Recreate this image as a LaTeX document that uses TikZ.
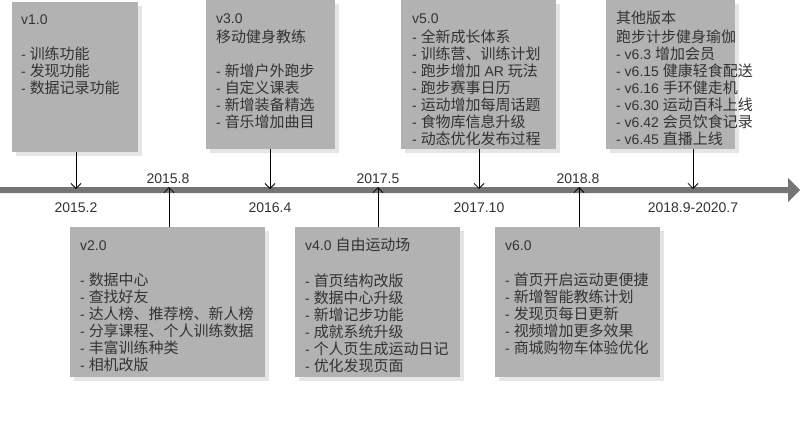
\documentclass[tikz,border=0pt]{standalone}
\usepackage{fontspec}
\setmainfont{Liberation Sans}
\newfontfamily\zhf[Scale=1.07]{Noto Sans CJK SC}
\newcommand\zh[1]{{\zhf #1}}
\usetikzlibrary{arrows.meta,shadows}
\definecolor{boxgray}{HTML}{B2B2B2}
\definecolor{linegray}{HTML}{757575}
\definecolor{txt}{HTML}{333333}
\begin{document}
\begin{tikzpicture}[x=1pt,y=-1pt,
  vbox/.style={rectangle, fill=boxgray, inner sep=0pt, outer sep=0pt, anchor=north west,
    drop shadow={shadow xshift=4pt, shadow yshift=-4pt, fill=black!10, opacity=1}},
  vtext/.style={anchor=north west, inner sep=0pt, align=left, text=txt,
    font=\fontsize{14}{17}\selectfont},
  date/.style={text=txt, inner sep=0pt, font=\fontsize{14}{17}\selectfont},
  conn/.style={draw=black, line width=0.8pt, -{Straight Barb[length=5pt,width=10pt,line width=0.8pt]}}
]
\useasboundingbox (0,0) rectangle (800,424);
% timeline
\fill[linegray] (0,187) -- (788,187) -- (788,178) -- (800,190) -- (788,202) -- (788,193) -- (0,193) -- cycle;
% timeline coordinates
\coordinate (d1) at (76,189);
\coordinate (d3) at (270,189);
\coordinate (d5) at (479,189);
\coordinate (d7) at (693,189);
\coordinate (u2) at (169,187);
\coordinate (u4) at (378,187);
\coordinate (u6) at (579,187);
% boxes top
\node[vbox, minimum width=126pt, minimum height=150pt] (b1) at (12,2) {};
\node[vbox, minimum width=129pt, minimum height=149pt] (b3) at (206,0) {};
\node[vbox, minimum width=155pt, minimum height=149pt] (b5) at (401,0) {};
\node[vbox, minimum width=129pt, minimum height=149pt] (b7) at (606,0) {};
% boxes bottom
\node[vbox, minimum width=195pt, minimum height=150pt] (b2) at (70,227) {};
\node[vbox, minimum width=165pt, minimum height=150pt] (b4) at (295,227) {};
\node[vbox, minimum width=165pt, minimum height=150pt] (b6) at (495,227) {};
% texts
\node[vtext] (t1) at (21,12) {\strut v1.0\\[17pt]- \zh{训练功能}\\- \zh{发现功能}\\- \zh{数据记录功能}};
\node[vtext] (t3) at (216,11.5) {\strut v3.0\\\zh{移动健身教练}\\[17pt]- \zh{新增户外跑步}\\- \zh{自定义课表}\\- \zh{新增装备精选}\\- \zh{音乐增加曲目}};
\node[vtext] (t5) at (412,11.5) {\strut v5.0\\- \zh{全新成长体系}\\- \zh{训练营、训练计划}\\- \zh{跑步增加} AR \zh{玩法}\\- \zh{跑步赛事日历}\\- \zh{运动增加每周话题}\\- \zh{食物库信息升级}\\- \zh{动态优化发布过程}};
\node[vtext] (t7) at (616,11) {\strut\zh{其他版本}\\\zh{跑步计步健身瑜伽}\\- v6.3 \zh{增加会员}\\- v6.15 \zh{健康轻食配送}\\- v6.16 \zh{手环健走机}\\- v6.30 \zh{运动百科上线}\\- v6.42 \zh{会员饮食记录}\\- v6.45 \zh{直播上线}};
\node[vtext] (t2) at (80,238) {\strut v2.0\\[17pt]- \zh{数据中心}\\- \zh{查找好友}\\- \zh{达人榜、推荐榜、新人榜}\\- \zh{分享课程、个人训练数据}\\- \zh{丰富训练种类}\\- \zh{相机改版}};
\node[vtext] (t4) at (305,238) {\strut v4.0 \zh{自由运动场}\\[17pt]- \zh{首页结构改版}\\- \zh{数据中心升级}\\- \zh{新增记步功能}\\- \zh{成就系统升级}\\- \zh{个人页生成运动日记}\\- \zh{优化发现页面}};
\node[vtext] (t6) at (505,238) {\strut v6.0\\[17pt]- \zh{首页开启运动更便捷}\\- \zh{新增智能教练计划}\\- \zh{发现页每日更新}\\- \zh{视频增加更多效果}\\- \zh{商城购物车体验优化}};
% dates
\node[date] (l1) at (76,208) {2015.2};
\node[date] (l2) at (168,179) {2015.8};
\node[date] (l3) at (270,208) {2016.4};
\node[date] (l4) at (378,179) {2017.5};
\node[date] (l5) at (479,208) {2017.10};
\node[date] (l6) at (578,179) {2018.8};
\node[date] (l7) at (693,208) {2018.9-2020.7};
% connectors
\draw[conn] (b1.south -| d1) -- (d1);
\draw[conn] (b3.south -| d3) -- (d3);
\draw[conn] (b5.south -| d5) -- (d5);
\draw[conn] (b7.south -| d7) -- (d7);
\draw[conn] (b2.north -| u2) -- (u2);
\draw[conn] (b4.north -| u4) -- (u4);
\draw[conn] (b6.north -| u6) -- (u6);
\end{tikzpicture}
\end{document}
